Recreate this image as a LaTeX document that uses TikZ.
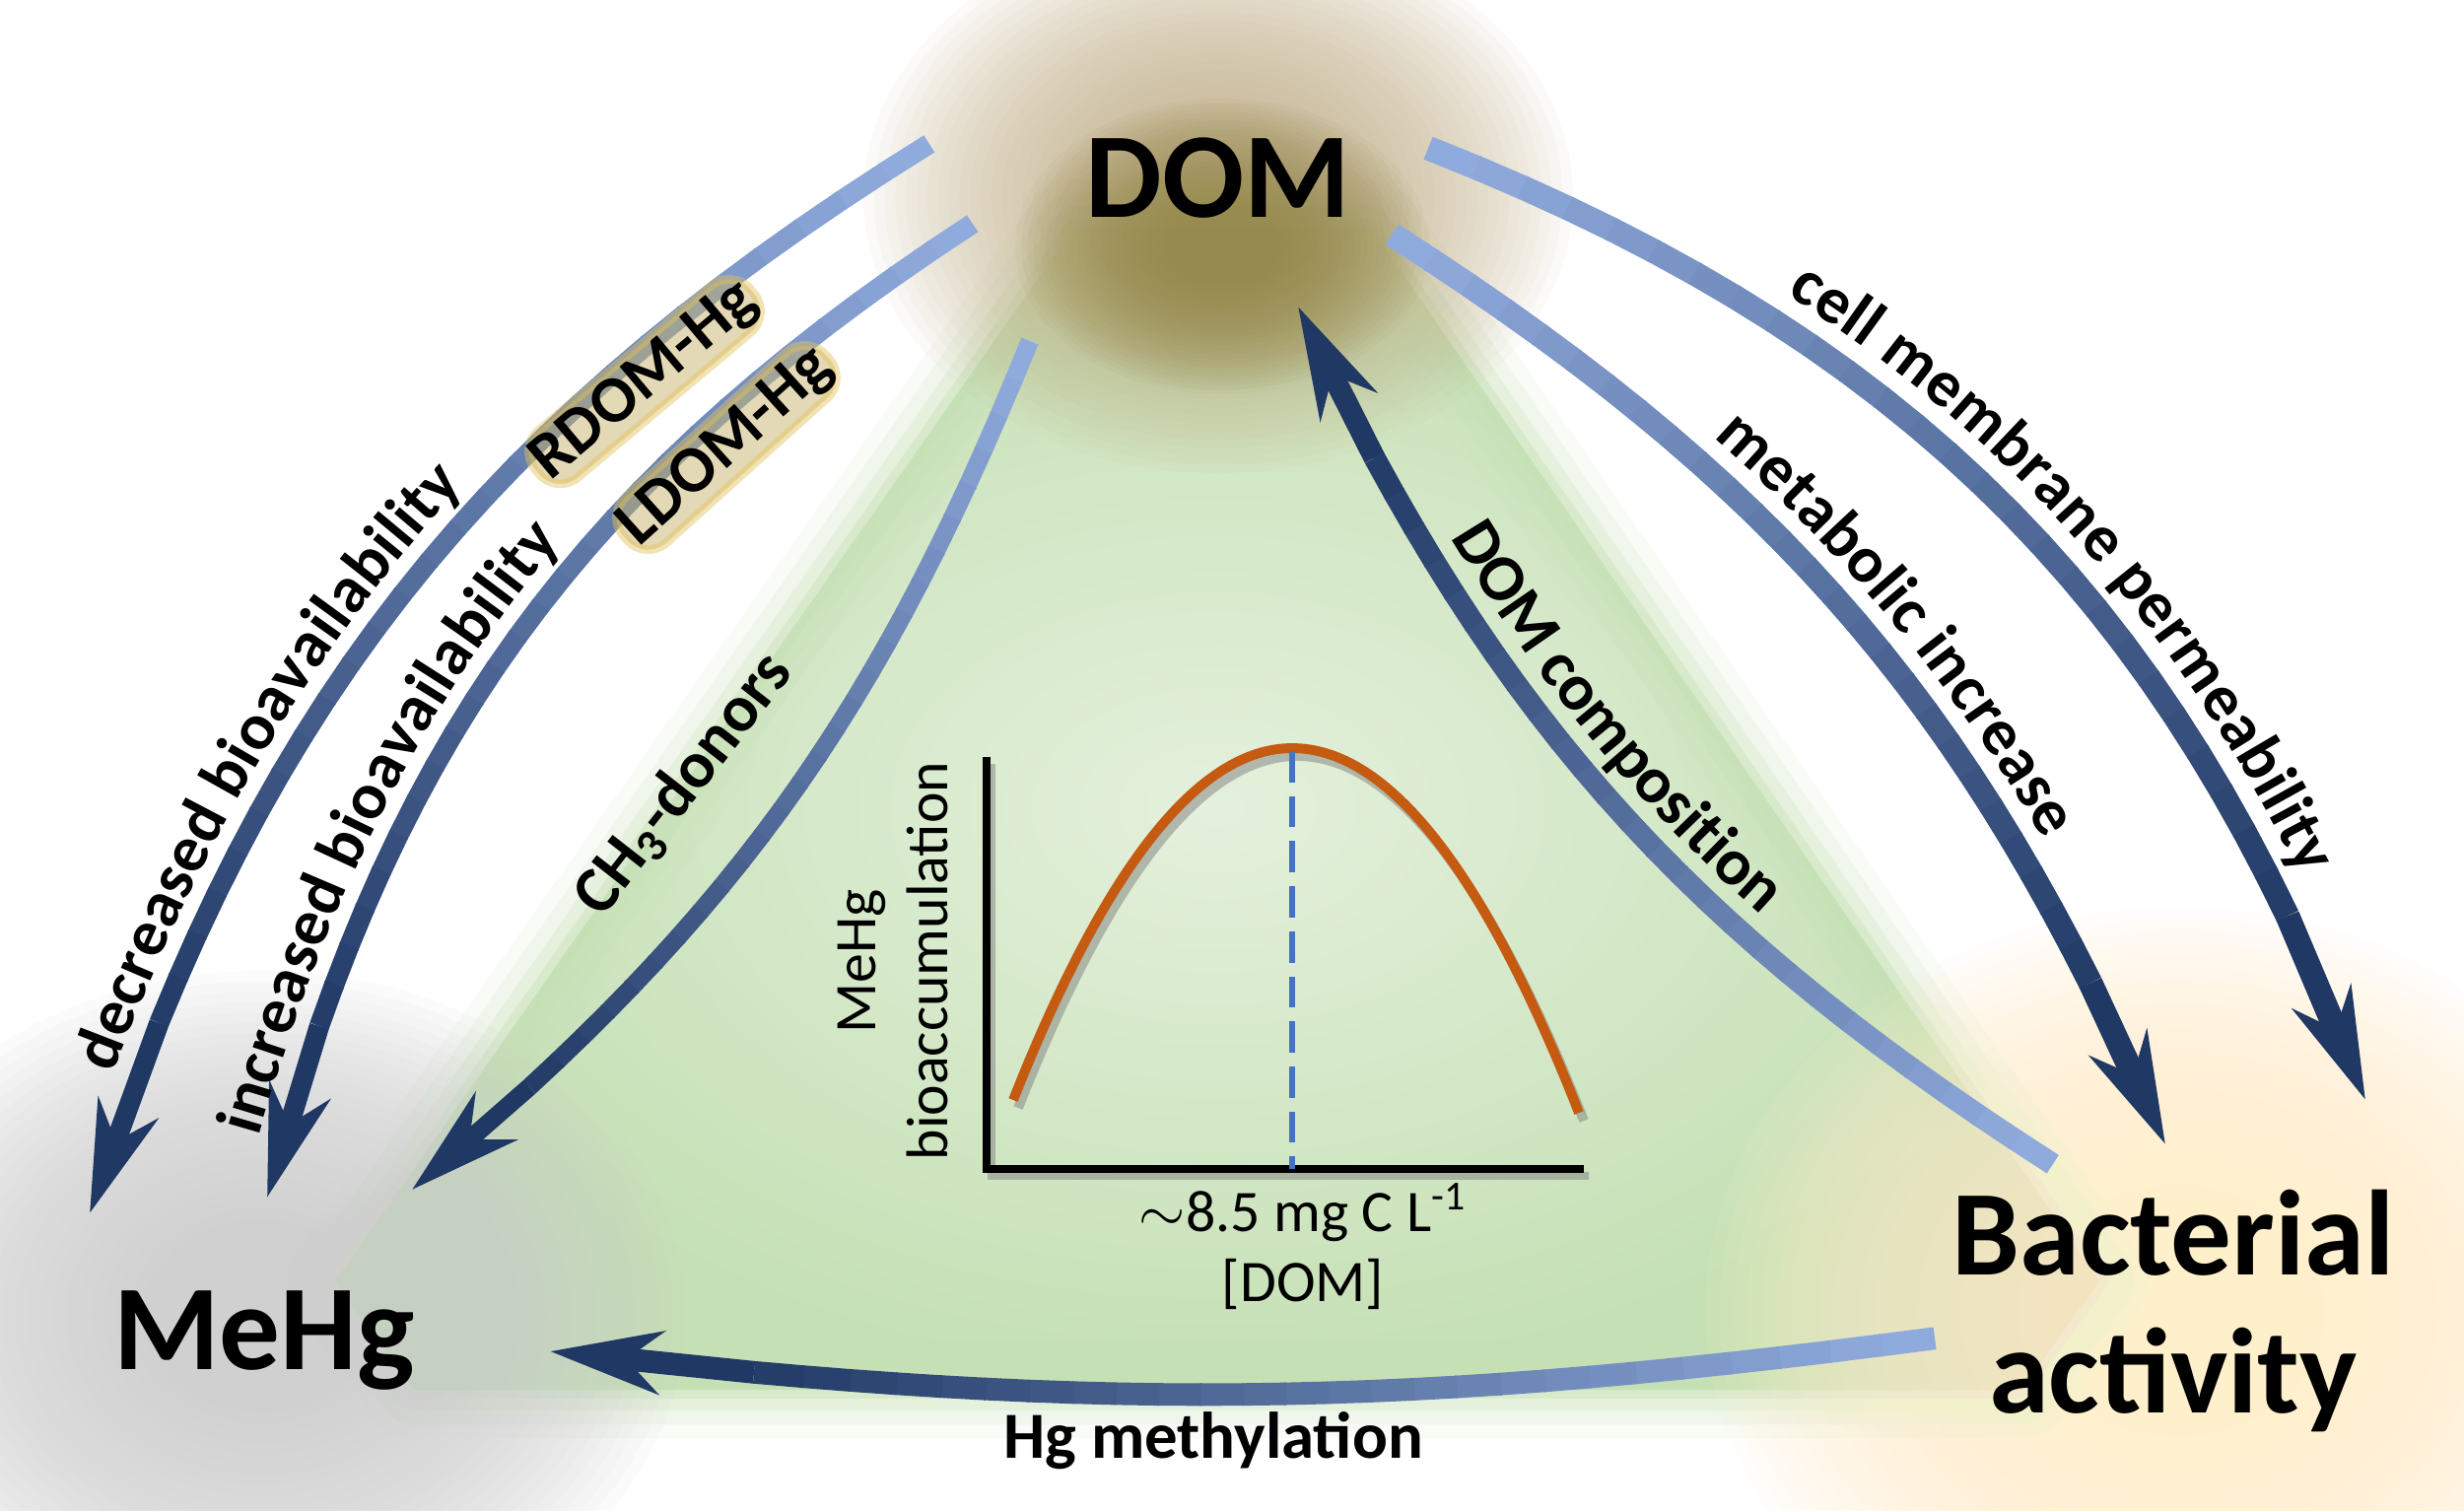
\documentclass[tikz,border=0pt]{standalone}
\usepackage{fontspec}
\setmainfont{Carlito}
\usetikzlibrary{arrows.meta,positioning,calc,decorations.text}

\definecolor{paleblue}{HTML}{8FAADC}
\definecolor{navyblue}{HTML}{203864}
\definecolor{leaf}{HTML}{C5E0B4}
\definecolor{leaflight}{HTML}{E4F0DC}
\definecolor{domcore}{HTML}{8F8240}
\definecolor{domhalo}{HTML}{C2AF86}
\definecolor{mehgfog}{HTML}{CFCFCF}
\definecolor{bactcream}{HTML}{FFF0CC}
\definecolor{rust}{HTML}{C55A11}
\definecolor{dashblue}{HTML}{4472C4}
\definecolor{glowgold}{HTML}{E3C25A}
\definecolor{glowfill}{HTML}{C8B46E}

\newcommand{\tagfont}{\fontsize{19}{22}\selectfont\bfseries}

\tikzset{
  big/.style={font=\fontsize{35}{40}\selectfont\bfseries},
  tag/.style={font=\tagfont, inner sep=1pt},
  glowtag/.style={tag, fill=glowfill, fill opacity=0.5, text opacity=1, draw=glowgold, draw opacity=0.45, line width=2.5pt, rounded corners=8pt},
  axislbl/.style={font=\fontsize{17}{20.5}\selectfont},
  flowtip/.style={-{Stealth[length=32pt,width=18pt,inset=10pt]}},
  along/.style n args={3}{decorate, decoration={text along path, text={|\tagfont|#1}, text align={left, left indent=#2}, raise=#3}},
}

% soft haze: colour, centre, x radius, y radius, opacity per step
\newcommand{\haze}[5]{%
  \foreach \s in {1.00,0.97,...,0.27}
    {\fill[#1, opacity=#5] (#2) ellipse [x radius=\s*#3, y radius=\s*#4];}
}

% gradient arrow: name, tail, head, bend, width
\newcommand{\flow}[5]{%
  \foreach \k [evaluate=\k as \t using \k/30] in {0,...,26}
    {\path (#2) to[#4] coordinate[pos=\t] (#1-\k) (#3);}
  \foreach \k [count=\j from 1, evaluate=\k as \c using int(100*\k/26)] in {0,...,25}
    {\draw[line width=#5, draw=navyblue!\c!paleblue, shorten <=-0.6pt] (#1-\k) -- (#1-\j);}
  \draw[line width=#5, draw=navyblue, flowtip] (#1-26) -- (#3);
}

\begin{document}
\begin{tikzpicture}[x=0.01cm, y=-0.01cm]
\useasboundingbox (0,0) rectangle (2500,1532);
\fill[white] (0,0) rectangle (2500,1532);

% green field
\coordinate (g1) at (1090,230);
\coordinate (g2) at (1390,230);
\coordinate (g3) at (2130,1300);
\coordinate (g4) at (2050,1410);
\coordinate (g5) at (420,1410);
\coordinate (g6) at (340,1300);
\shade[inner color=leaflight, outer color=leaf] (g1) -- (g2) -- (g3) -- (g4) -- (g5) -- (g6) -- cycle;
\foreach \w/\o in {28/0.10, 20/0.16, 12/0.25, 5/0.4}
  \draw[leaf, line width=\w pt, opacity=\o, line join=round] (g1) -- (g2) -- (g3) -- (g4) -- (g5) -- (g6) -- cycle;

% glows
\coordinate (haze-mehg) at (265,1335);
\coordinate (haze-bact) at (2210,1330);
\coordinate (haze-dom) at (1236,200);
\coordinate (core-dom) at (1240,250);
\haze{mehgfog}{haze-mehg}{430}{350}{0.075}
\haze{bactcream}{haze-bact}{480}{410}{0.08}
\haze{domhalo}{haze-dom}{360}{280}{0.055}
\haze{domcore}{core-dom}{210}{150}{0.05}

\node[big, anchor=base] (dom) at (1236,220) {DOM};
\node[big, anchor=base] (mehg) at (268,1389) {MeHg};
\node[big, align=center] (bact) at (2205,1330) {Bacterial\\activity};

% plot
\coordinate (o) at (1001,1186);
\coordinate (ytop) at (1001,768);
\coordinate (xend) at (1607,1186);
\coordinate (c0) at (1028,1116);
\coordinate (peak) at (1311,759);
\coordinate (c1) at (1602,1129);
\draw[black!50, opacity=0.5, line width=2.3pt] ([shift={(5,7)}]ytop) -- ([shift={(5,7)}]o) -- ([shift={(5,7)}]xend);
\draw[black!50, opacity=0.5, line width=2.8pt] ([shift={(5,8)}]c0) .. controls ([shift={(5,8)}]1122,878) and ([shift={(5,8)}]1217,759) .. ([shift={(5,8)}]peak) .. controls ([shift={(5,8)}]1408,759) and ([shift={(5,8)}]1505,882) .. ([shift={(5,8)}]c1);
\draw[line width=2.3pt] (ytop) -- (o) -- (xend);
\draw[rust, line width=2.8pt] (c0) .. controls (1122,878) and (1217,759) .. (peak) .. controls (1408,759) and (1505,882) .. (c1);
\draw[dashblue, line width=1.6pt, dash pattern=on 9pt off 4pt] (1311,762) -- (1311,1186);

\node[axislbl, rotate=90, align=center] (ylab) at (906,975) {MeHg\\bioaccumulation};
\node[axislbl] (xval) at (1322,1230) {$\sim$8.5 mg C L\textsuperscript{-1}};
\node[axislbl, below=-2pt of xval] (xlab) {[DOM]};

% arrows
\coordinate (dec-s) at (941,147);  \coordinate (dec-e) at (91,1231);
\coordinate (inc-s) at (985,228);  \coordinate (inc-e) at (271,1215);
\coordinate (ch3-s) at (1044,348); \coordinate (ch3-e) at (418,1207);
\coordinate (comp-s) at (2081,1180); \coordinate (comp-e) at (1317,311);
\coordinate (meta-s) at (1414,239); \coordinate (meta-e) at (2197,1161);
\coordinate (cell-s) at (1451,151); \coordinate (cell-e) at (2400,1116);
\coordinate (meth-s) at (1961,1358); \coordinate (meth-e) at (558,1371);

\flow{dec}{dec-s}{dec-e}{bend right=20}{5.8pt}
\flow{inc}{inc-s}{inc-e}{bend right=21}{5.8pt}
\flow{ch3}{ch3-s}{ch3-e}{bend left=14}{5.2pt}
\flow{comp}{comp-s}{comp-e}{bend left=16}{6.3pt}
\flow{meta}{meta-s}{meta-e}{bend left=17}{7pt}
\flow{cell}{cell-s}{cell-e}{bend left=24}{7pt}
\flow{meth}{meth-s}{meth-e}{bend left=7}{6.5pt}

% labels
\path[along={decreased bioavailability}{40pt}{7pt}] (dec-e) to[bend left=20] (dec-s);
\path[along={increased bioavailability}{16pt}{7pt}] (inc-e) to[bend left=21] (inc-s);
\path[along={DOM composition}{80pt}{7.5pt}] (comp-e) to[bend right=16] (comp-s);
\path[along={metabolic increase}{108pt}{8pt}] (meta-s) to[bend left=17] (meta-e);
\path[along={cell membrane permeability}{110pt}{8.5pt}] (cell-s) to[bend left=24] (cell-e);
\node[glowtag, rotate=40] (l-rdom) at (654,387) {RDOM-Hg};
\node[glowtag, rotate=42] (l-ldom) at (737,454) {LDOM-Hg};
\node[tag, rotate=52] (l-ch3) at (694,796) {CH\textsubscript{3}-donors};
\node[tag] (l-meth) at (1231,1462) {Hg methylation};
\end{tikzpicture}
\end{document}
